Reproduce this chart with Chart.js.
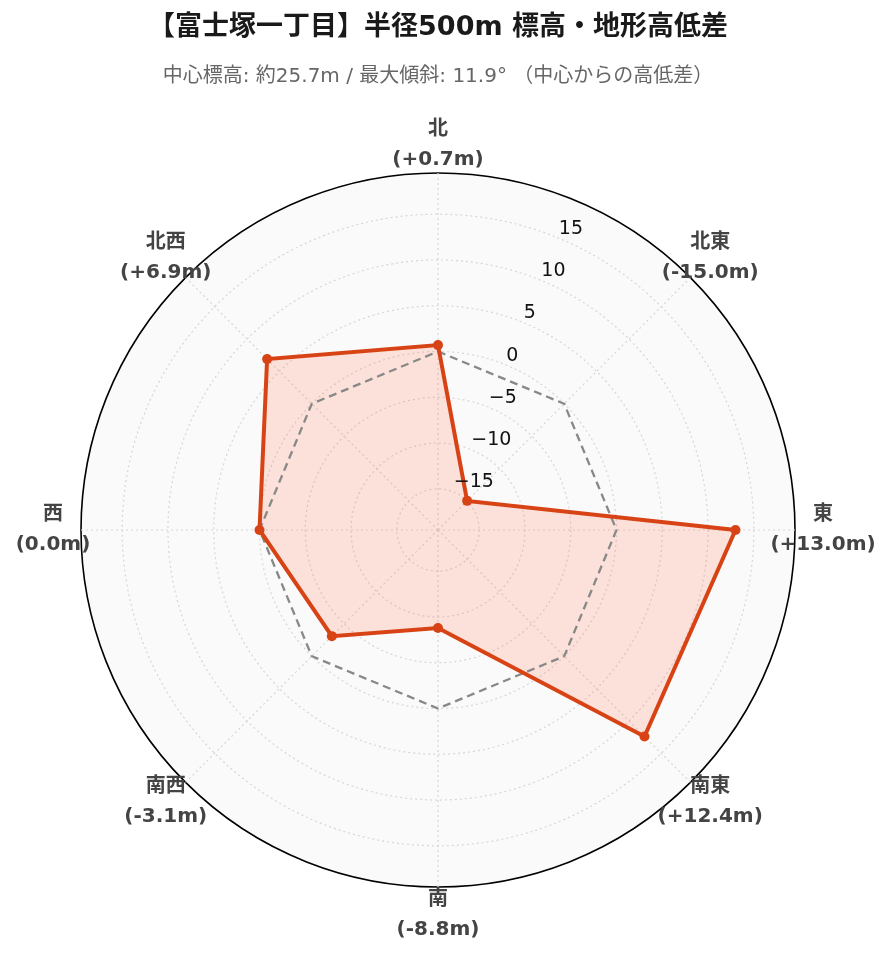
<!DOCTYPE html>
<html>
<head>
<meta charset="utf-8">
<title>富士塚一丁目 標高・地形高低差</title>
<script src="https://cdn.jsdelivr.net/npm/chart.js"></script>
<style>
  html, body { margin: 0; padding: 0; background: #fff; }
  #wrap { width: 891px; height: 962px; }
</style>
</head>
<body>
<div id="wrap"><canvas id="myChart"></canvas></div>
<script>
const directions = ["北", "北東", "東", "南東", "南", "南西", "西", "北西"];
const heightDiffs = [0.7, -15.0, 13.0, 12.4, -8.8, -3.1, 0.0, 6.9];
const zeroLine = [0, 0, 0, 0, 0, 0, 0, 0];
const tickValues = [-15, -10, -5, 0, 5, 10, 15];
const axisMin = -19.5;
const axisMax = 19.5;

const FONT = '"DejaVu Sans", "Noto Sans CJK JP", sans-serif';
const RED = "#d84315";

function fmtTick(v) {
  return v < 0 ? "\u2212" + Math.abs(v) : String(v);
}
function fmtDiff(v) {
  if (v > 0) return "(+" + v.toFixed(1) + "m)";
  return "(" + v.toFixed(1) + "m)";
}

// tick labels + direction labels, drawn on top
const radarText = {
  id: "radarText",
  afterDraw(chart) {
    const s = chart.scales.r;
    const ctx = chart.ctx;
    ctx.save();
    ctx.font = "19px " + FONT;
    ctx.fillStyle = "#111";
    ctx.textAlign = "left";
    ctx.textBaseline = "bottom";
    const a = 22.5 * Math.PI / 180;
    tickValues.forEach((v) => {
      const r = s.getDistanceFromCenterForValue(v);
      ctx.fillText(fmtTick(v), s.xCenter + r * Math.sin(a), s.yCenter - r * Math.cos(a));
    });

    ctx.font = "bold 20px " + FONT;
    ctx.fillStyle = "#444";
    ctx.textAlign = "center";
    ctx.textBaseline = "middle";
    directions.forEach((d, i) => {
      const p = s.getPointPosition(i, s.drawingArea + 28);
      ctx.fillText(d, p.x, p.y - 15);
      ctx.fillText(fmtDiff(heightDiffs[i]), p.x, p.y + 15);
    });
    ctx.restore();
  },
};

const config = {
  type: "radar",
  data: {
    labels: directions,
    datasets: [
      {
        label: "高低差",
        data: heightDiffs,
        borderColor: RED,
        borderWidth: 4,
        backgroundColor: "rgba(255, 100, 60, 0.17)",
        fill: "start",
        pointRadius: 5,
        pointBackgroundColor: RED,
        pointBorderColor: RED,
        pointBorderWidth: 0,
      },
      {
        label: "0m",
        data: zeroLine,
        borderColor: "#888",
        borderWidth: 2.3,
        borderDash: [8, 5],
        fill: false,
        pointRadius: 0,
      },
    ],
  },
  options: {
    responsive: true,
    maintainAspectRatio: false,
    animation: false,
    layout: { padding: { left: 81, right: 96, top: 0, bottom: 75 } },
    plugins: {
      legend: { display: false },
      tooltip: { enabled: false },
      filler: { drawTime: "beforeDatasetsDraw" },
      title: {
        display: true,
        text: "【富士塚一丁目】半径500m 標高・地形高低差",
        color: "#1a1a1a",
        font: { family: FONT, size: 27, weight: "bold", lineHeight: 1.2 },
        padding: { top: 11.8, bottom: 0 },
      },
      subtitle: {
        display: true,
        text: "中心標高: 約25.7m / 最大傾斜: 11.9° （中心からの高低差）",
        color: "#666",
        font: { family: FONT, size: 20, lineHeight: 1.2 },
        padding: { top: 20.8, bottom: 84 },
      },
    },
    scales: {
      r: {
        min: axisMin,
        max: axisMax,
        startAngle: 0,
        afterBuildTicks: (scale) => {
          scale.ticks = [axisMin, ...tickValues, axisMax].map((v) => ({ value: v }));
        },
        backgroundColor: "#fafafa",
        ticks: { display: false },
        pointLabels: { display: false },
        grid: {
          circular: true,
          color: (ctx) => (ctx.tick && ctx.tick.value === axisMax ? "#000" : "#d6d6d6"),
          lineWidth: (ctx) => (ctx.tick && ctx.tick.value === axisMax ? 1.6 : 1.2),
        },
        border: {
          dash: (ctx) => (ctx.tick && ctx.tick.value === axisMax ? [] : [2, 3]),
        },
        angleLines: { color: "#d6d6d6", lineWidth: 1.2, borderDash: [2, 3] },
      },
    },
  },
  plugins: [radarText],
};

new Chart(document.getElementById("myChart"), config);
</script>
</body>
</html>
